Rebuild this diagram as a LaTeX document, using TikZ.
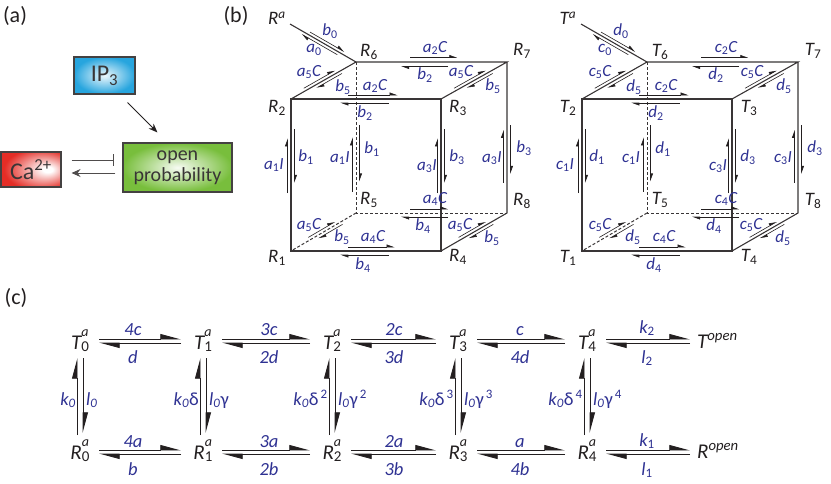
\documentclass[tikz,border=0pt]{standalone}
\usepackage{fontspec}
\setmainfont{Carlito}
\usetikzlibrary{arrows.meta,calc}
\definecolor{lblue}{RGB}{46,49,146}
\definecolor{ln}{RGB}{35,31,32}
\definecolor{ipblue}{RGB}{39,165,222}
\definecolor{cared}{RGB}{228,45,38}
\definecolor{opgreen}{RGB}{120,190,60}
\newcommand\supsub[2]{\rlap{\raisebox{0.58em}{\fontsize{14}{14}\selectfont #1}}\raisebox{-0.14em}{\fontsize{15}{15}\selectfont #2}}
\newcommand\sbu[1]{\textsubscript{\upshape #1}}
\pgfdeclareradialshading{cashade}{\pgfpoint{15bp}{0bp}}{color(0bp)=(white); color(4bp)=(white); color(30bp)=(cared); color(60bp)=(cared)}
\tikzset{
  edge/.style={draw=ln!90, line width=1.1pt, line join=miter},
  dedge/.style={draw=ln!90, line width=1pt, dash pattern=on 3pt off 2pt},
  ca/.style={draw=ln, line width=0.6pt, -{Triangle[harpoon,length=7pt,width=5pt]}},
  ha/.style={draw=ln, line width=0.9pt, -{Triangle[harpoon,length=19pt,width=10pt]}},
  cl/.style={text=ln, font=\fontsize{19}{19}\selectfont\itshape, inner sep=0pt},
  bl/.style={text=lblue, font=\fontsize{17}{17}\selectfont\itshape, inner sep=0pt},
  st/.style={text=ln, font=\fontsize{21}{21}\selectfont\itshape, inner sep=0pt, anchor=base},
  rl/.style={text=lblue, font=\fontsize{18.5}{19}\selectfont\itshape, inner sep=0pt, anchor=base},
  pl/.style={text=ln, font=\fontsize{22}{22}\selectfont, inner sep=0pt},
  box/.style={draw=ln!85, line width=1.1pt, text=ln!90, inner sep=0pt},
}
\newcommand\rpair[7]{%
  \draw[ca] ($(#1)!#3!(#2)!#7!90:(#2)$) -- ($(#1)!#4!(#2)!#7!90:(#2)$);
  \draw[ca] ($(#1)!#5!(#2)!#7!-90:(#2)$) -- ($(#1)!#6!(#2)!#7!-90:(#2)$);}
\newcommand\cubeat[4]{%
\begin{scope}[xshift=#1]
  \coordinate (#2-1) at (291,251);
  \coordinate (#2-2) at (291,99);
  \coordinate (#2-3) at (441,99);
  \coordinate (#2-4) at (441,251);
  \coordinate (#2-5) at (356,213);
  \coordinate (#2-6) at (356,62);
  \coordinate (#2-7) at (507,62);
  \coordinate (#2-8) at (507,213);
  \coordinate (#2-a) at (290,24);
  % edges
  \draw[dedge] (#2-6) -- (#2-5) -- (#2-8);
  \draw[dedge] (#2-5) -- (#2-1);
  \draw[edge] (#2-1) -- (#2-2) -- (#2-3) -- (#2-4) -- cycle;
  \draw[edge] (#2-2) -- (#2-6) -- (#2-7) -- (#2-3);
  \draw[edge] (#2-7) -- (#2-8) -- (#2-4);
  \draw[edge] (#2-a) -- (#2-6);
  % corner labels
  \node[cl] (#2-na) at (277,18) {#2\textsuperscript{a}};
  \node[cl] (#2-n1) at (277,258) {#2\sbu{1}};
  \node[cl] (#2-n2) at (277,108) {#2\sbu{2}};
  \node[cl] (#2-n3) at (458,108) {#2\sbu{3}};
  \node[cl] (#2-n4) at (458,257) {#2\sbu{4}};
  \node[cl] (#2-n5) at (369,200) {#2\sbu{5}};
  \node[cl] (#2-n6) at (369,52) {#2\sbu{6}};
  \node[cl] (#2-n7) at (522,51) {#2\sbu{7}};
  \node[cl] (#2-n8) at (522,201) {#2\sbu{8}};
  % rate arrows
  \rpair{#2-a}{#2-6}{0.28}{0.80}{0.74}{0.20}{3pt}
  \rpair{#2-6}{#2-7}{0.36}{0.67}{0.61}{0.30}{4.5pt}
  \rpair{#2-2}{#2-3}{0.38}{0.71}{0.65}{0.33}{4pt}
  \rpair{#2-2}{#2-6}{0.22}{0.70}{0.76}{0.37}{3pt}
  \rpair{#2-3}{#2-7}{0.22}{0.70}{0.76}{0.37}{3pt}
  \rpair{#2-1}{#2-5}{0.29}{0.70}{0.77}{0.40}{3pt}
  \rpair{#2-4}{#2-8}{0.29}{0.70}{0.77}{0.40}{3pt}
  \rpair{#2-1}{#2-2}{0.38}{0.74}{0.80}{0.45}{3.5pt}
  \rpair{#2-4}{#2-3}{0.38}{0.74}{0.80}{0.45}{3.5pt}
  \rpair{#2-5}{#2-6}{0.14}{0.50}{0.58}{0.21}{3.5pt}
  \rpair{#2-8}{#2-7}{0.20}{0.55}{0.58}{0.26}{3.5pt}
  \rpair{#2-5}{#2-8}{0.36}{0.61}{0.61}{0.30}{4pt}
  \rpair{#2-1}{#2-4}{0.38}{0.69}{0.65}{0.33}{4pt}
  % rate labels
  \node[bl] (#2-L1) at (330,31) {#4\sbu{0}};
  \node[bl] (#2-L2) at (314,50) {#3\sbu{0}};
  \node[bl] (#2-L3) at (309,72) {#3\sbu{5}C};
  \node[bl] (#2-L4) at (343,87) {#4\sbu{5}};
  \node[bl] (#2-L5) at (435,48) {#3\sbu{2}C};
  \node[bl] (#2-L6) at (425,75) {#4\sbu{2}};
  \node[bl] (#2-L7) at (461,72) {#3\sbu{5}C};
  \node[bl] (#2-L8) at (493,86) {#4\sbu{5}};
  \node[bl] (#2-L9) at (375,86) {#3\sbu{2}C};
  \node[bl] (#2-L10) at (365,113) {#4\sbu{2}};
  \node[bl] (#2-L11) at (274,165) {#3\sbu{1}I};
  \node[bl] (#2-L12) at (306,157) {#4\sbu{1}};
  \node[bl] (#2-L13) at (340,158) {#3\sbu{1}I};
  \node[bl] (#2-L14) at (372,149) {#4\sbu{1}};
  \node[bl] (#2-L15) at (427,166) {#3\sbu{3}I};
  \node[bl] (#2-L16) at (457,157) {#4\sbu{3}};
  \node[bl] (#2-L17) at (492,158) {#3\sbu{3}I};
  \node[bl] (#2-L18) at (524,148) {#4\sbu{3}};
  \node[bl] (#2-L19) at (435,199) {#3\sbu{4}C};
  \node[bl] (#2-L20) at (423,226) {#4\sbu{4}};
  \node[bl] (#2-L21) at (309,225) {#3\sbu{5}C};
  \node[bl] (#2-L22) at (342,237) {#4\sbu{5}};
  \node[bl] (#2-L23) at (460,225) {#3\sbu{5}C};
  \node[bl] (#2-L24) at (492,238) {#4\sbu{5}};
  \node[bl] (#2-L25) at (373,237) {#3\sbu{4}C};
  \node[bl] (#2-L26) at (363,265) {#4\sbu{4}};
\end{scope}}

\begin{document}
\begin{tikzpicture}[x=1pt,y=-1pt]
\useasboundingbox (0,0) rectangle (831,483);
% panel labels
\node[pl] (pa) at (15,16) {(a)};
\node[pl] (pb) at (236,16) {(b)};
\node[pl] (pc) at (16,298) {(c)};

% ---------- panel (a)
\node[box, inner color=ipblue!8, outer color=ipblue, minimum width=61pt, minimum height=37pt,
      font=\fontsize{24}{24}\selectfont] (ip3) at (104.5,75.5) {IP\textsubscript{3}};
\node[box, inner color=opgreen!6, outer color=opgreen, minimum width=109pt, minimum height=49pt,
      font=\fontsize{20}{21}\selectfont, align=center] (op) at (177.5,167.5) {open\\probability};
\node[box, shading=cashade, minimum width=60pt, minimum height=35pt,
      font=\fontsize{24}{24}\selectfont] (ca) at (31,169.5) {Ca\textsuperscript{2+}};
\draw[ln, line width=1pt, -{Stealth[length=9pt,width=7pt]}] ($(ip3.south east)+(-8,8)$) -- ($(op.north west)+(35,-10)$);
\draw[ln!80, line width=1pt, -{Bar[width=12pt,line width=1pt]}] ($(ca.east)+(10,-9.5)$) -- ($(op.west)+(-8,-7.5)$);
\draw[ln!80, line width=1pt, -{Stealth[length=9pt,width=8pt]}] ($(op.west)+(-7,5.5)$) -- ($(ca.east)+(10,3.5)$);

% ---------- panel (b)
\cubeat{0pt}{R}{a}{b}
\cubeat{291pt}{T}{c}{d}

% ---------- panel (c)
\foreach \i/\x in {0/80,1/203,2/332,3/458,4/587}{
  \node[st] (cT\i) at (\x,349) {T\supsub{a}{\upshape\i}};
  \node[st] (cR\i) at (\x,459) {R\supsub{a}{\upshape\i}};
}
\node[st, anchor=base west] (cTo) at (697,348) {T\textsuperscript{open}};
\node[st, anchor=base west] (cRo) at (697,458) {R\textsuperscript{open}};
% horizontal pairs
\foreach \a/\b in {0/1,1/2,2/3,3/4}{
  \draw[ha] ($(cT\a.base)+(19,-10)$) -- ($(cT\b.base)+(-22,-10)$);
  \draw[ha] ($(cT\b.base)+(-22,-6)$) -- ($(cT\a.base)+(19,-6)$);
  \draw[ha] ($(cR\a.base)+(19,-9)$) -- ($(cR\b.base)+(-22,-9)$);
  \draw[ha] ($(cR\b.base)+(-22,-5)$) -- ($(cR\a.base)+(19,-5)$);
}
\draw[ha] ($(cT4.base)+(19,-10)$) -- ($(cTo.base west)+(-7,-9)$);
\draw[ha] ($(cTo.base west)+(-7,-5)$) -- ($(cT4.base)+(19,-6)$);
\draw[ha] ($(cR4.base)+(19,-9)$) -- ($(cRo.base west)+(-7,-8)$);
\draw[ha] ($(cRo.base west)+(-7,-4)$) -- ($(cR4.base)+(19,-5)$);
% vertical pairs
\foreach \i in {0,...,4}{
  \draw[ha] ($(cR\i.base)+(-3,-24)$) -- ($(cT\i.base)+(-3,9)$);
  \draw[ha] ($(cT\i.base)+(3,9)$) -- ($(cR\i.base)+(3,-26)$);
}
% horizontal rate labels
\foreach \x/\u/\d/\uu/\dd [count=\k] in {133/4c/d/4a/b, 269/3c/2d/3a/2b, 394/2c/3d/2a/3b, 520/c/4d/a/4b}{
  \node[rl] (ru\k) at (\x,335) {\u};
  \node[rl] (rd\k) at (\x,363) {\d};
  \node[rl] (su\k) at (\x,447) {\uu};
  \node[rl] (sd\k) at (\x,475) {\dd};
}
\node[rl] (k2) at (647,333) {k\sbu{2}};
\node[rl] (l2) at (647,363) {l\sbu{2}};
\node[rl] (k1) at (647,446) {k\sbu{1}};
\node[rl] (l1) at (647,475) {l\sbu{1}};
% vertical rate labels
\node[rl, anchor=base east] (kv0) at ($(cT0.base)+(-4,56)$) {k\textsubscript{0}};
\node[rl, anchor=base west] (lv0) at ($(cT0.base)+(6,56)$) {l\textsubscript{0}};
\node[rl, anchor=base east] (kv1) at ($(cT1.base)+(-4,56)$) {k\textsubscript{0}{\upshape δ}};
\node[rl, anchor=base west] (lv1) at ($(cT1.base)+(6,56)$) {l\textsubscript{0}{\upshape γ}};
\node[rl, anchor=base east] (kv2) at ($(cT2.base)+(-4,56)$) {k\textsubscript{0}{\upshape δ\textsuperscript{\,2}}};
\node[rl, anchor=base west] (lv2) at ($(cT2.base)+(6,56)$) {l\textsubscript{0}{\upshape γ\textsuperscript{\,2}}};
\node[rl, anchor=base east] (kv3) at ($(cT3.base)+(-4,56)$) {k\textsubscript{0}{\upshape δ\textsuperscript{\,3}}};
\node[rl, anchor=base west] (lv3) at ($(cT3.base)+(6,56)$) {l\textsubscript{0}{\upshape γ\textsuperscript{\,3}}};
\node[rl, anchor=base east] (kv4) at ($(cT4.base)+(-4,56)$) {k\textsubscript{0}{\upshape δ\textsuperscript{\,4}}};
\node[rl, anchor=base west] (lv4) at ($(cT4.base)+(6,56)$) {l\textsubscript{0}{\upshape γ\textsuperscript{\,4}}};
\end{tikzpicture}
\end{document}
